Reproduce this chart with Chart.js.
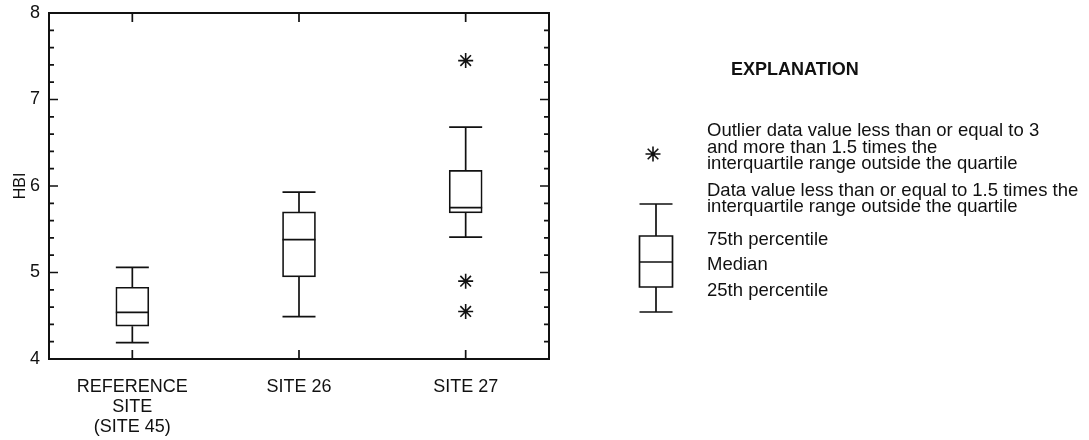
<!DOCTYPE html>
<html>
<head>
<meta charset="utf-8">
<script src="https://cdn.jsdelivr.net/npm/chart.js@4.4.0/dist/chart.umd.min.js"></script>
<style>
  html, body { margin: 0; padding: 0; background: #fff; }
  #wrap { width: 1089px; height: 440px; }
</style>
</head>
<body>
<div id="wrap"><canvas id="hbi" width="1089" height="440"></canvas></div>
<script>
// Sampling sites (multi-line label for the reference site)
const sites = [['REFERENCE', 'SITE', '(SITE 45)'], 'SITE 26', 'SITE 27'];

// Box-plot statistics of HBI per site
const whiskerLow  = [4.19, 4.49, 5.41];
const quartile25  = [4.38, 4.95, 5.69];
const medians     = [4.54, 5.38, 5.75];
const quartile75  = [4.83, 5.70, 6.18];
const whiskerHigh = [5.06, 5.93, 6.68];

// Outliers: site index and HBI value
const outlierSite  = [2, 2, 2];
const outlierValue = [7.45, 4.90, 4.55];

// Axis range and ticks
const yMin = 4, yMax = 8, yMajorStep = 1, yMinorStep = 0.2;

// Explanation text
const explanationTitle = 'EXPLANATION';
const outlierText = ['Outlier data value less than or equal to 3', 'and more than 1.5 times the', 'interquartile range outside the quartile'];
const whiskerText = ['Data value less than or equal to 1.5 times the', 'interquartile range outside the quartile'];
const boxText = ['75th percentile', 'Median', '25th percentile'];

const INK = '#111';
const FONT = "'Liberation Sans', Arial, Helvetica, sans-serif";
const STAR = { pointStyle: 'star', radius: 7.5, borderWidth: 1.6 };

// Whisker stems, caps and median lines for each box
const boxWhiskers = {
  id: 'boxWhiskers',
  afterDatasetsDraw(chart) {
    const { ctx, scales: { x, y } } = chart;
    const meta = chart.getDatasetMeta(0);
    ctx.save();
    ctx.strokeStyle = INK;
    ctx.lineWidth = 1.7;
    meta.data.forEach((bar, i) => {
      const cx = x.getPixelForValue(i);
      const half = bar.width / 2;
      const hi = y.getPixelForValue(whiskerHigh[i]);
      const lo = y.getPixelForValue(whiskerLow[i]);
      const q3 = y.getPixelForValue(quartile75[i]);
      const q1 = y.getPixelForValue(quartile25[i]);
      const md = y.getPixelForValue(medians[i]);
      ctx.beginPath();
      ctx.moveTo(cx, q3); ctx.lineTo(cx, hi);
      ctx.moveTo(cx - half, hi); ctx.lineTo(cx + half, hi);
      ctx.moveTo(cx, q1); ctx.lineTo(cx, lo);
      ctx.moveTo(cx - half, lo); ctx.lineTo(cx + half, lo);
      ctx.moveTo(cx - half, md); ctx.lineTo(cx + half, md);
      ctx.stroke();
    });
    ctx.restore();
  }
};

// Closed frame with inward tick marks on all four sides
const frameTicks = {
  id: 'frameTicks',
  afterDraw(chart) {
    const { ctx, chartArea: a, scales: { x, y } } = chart;
    ctx.save();
    ctx.strokeStyle = INK;
    ctx.lineWidth = 2;
    ctx.strokeRect(a.left, a.top, a.width, a.height);
    ctx.lineWidth = 1.7;
    ctx.beginPath();
    const n = Math.round((yMax - yMin) / yMinorStep);
    const perMajor = Math.round(yMajorStep / yMinorStep);
    for (let k = 1; k < n; k++) {
      const py = y.getPixelForValue(yMin + k * yMinorStep);
      const len = k % perMajor === 0 ? 9 : 5;
      ctx.moveTo(a.left, py); ctx.lineTo(a.left + len, py);
      ctx.moveTo(a.right, py); ctx.lineTo(a.right - len, py);
    }
    sites.forEach((s, i) => {
      const px = x.getPixelForValue(i);
      ctx.moveTo(px, a.top); ctx.lineTo(px, a.top + 9);
      ctx.moveTo(px, a.bottom); ctx.lineTo(px, a.bottom - 9);
    });
    ctx.stroke();
    ctx.restore();
  }
};

// Explanation panel to the right of the plot
const explanation = {
  id: 'explanation',
  afterDraw(chart) {
    const { ctx, chartArea: a } = chart;
    const sx = a.right + 107;   // symbol centre
    const tx = a.right + 158;   // text start
    ctx.save();
    ctx.fillStyle = INK;
    ctx.strokeStyle = INK;
    ctx.textBaseline = 'middle';
    ctx.textAlign = 'left';

    ctx.font = `bold 18px ${FONT}`;
    ctx.fillText(explanationTitle, a.right + 182, 70);

    ctx.font = `18.5px ${FONT}`;
    [131, 148, 164].forEach((ty, i) => ctx.fillText(outlierText[i], tx, ty));
    [191, 207].forEach((ty, i) => ctx.fillText(whiskerText[i], tx, ty));
    [240, 265, 291].forEach((ty, i) => ctx.fillText(boxText[i], tx, ty));

    // outlier symbol
    ctx.lineWidth = STAR.borderWidth;
    Chart.helpers.drawPoint(ctx, STAR, sx - 3, 154);

    // box symbol
    const half = 16.5;
    ctx.lineWidth = 1.7;
    ctx.beginPath();
    ctx.moveTo(sx, 236); ctx.lineTo(sx, 204);
    ctx.moveTo(sx - half, 204); ctx.lineTo(sx + half, 204);
    ctx.moveTo(sx, 287); ctx.lineTo(sx, 312);
    ctx.moveTo(sx - half, 312); ctx.lineTo(sx + half, 312);
    ctx.rect(sx - half, 236, half * 2, 51);
    ctx.moveTo(sx - half, 262); ctx.lineTo(sx + half, 262);
    ctx.stroke();
    ctx.restore();
  }
};

new Chart(document.getElementById('hbi'), {
  data: {
    labels: sites,
    datasets: [
      {
        type: 'bar',
        data: quartile25.map((q, i) => [q, quartile75[i]]),
        backgroundColor: '#fff',
        borderColor: INK,
        borderWidth: 1.7,
        borderSkipped: false,
        barThickness: 33
      },
      {
        type: 'scatter',
        data: outlierSite.map((s, i) => ({ x: sites[s], y: outlierValue[i] })),
        pointStyle: STAR.pointStyle,
        radius: STAR.radius,
        borderWidth: STAR.borderWidth,
        borderColor: INK,
        backgroundColor: INK
      }
    ]
  },
  options: {
    responsive: false,
    animation: false,
    devicePixelRatio: 1,
    layout: { autoPadding: false, padding: { left: 0, top: 13, right: 540, bottom: 0 } },
    plugins: { legend: { display: false }, tooltip: { enabled: false } },
    scales: {
      x: {
        type: 'category',
        offset: true,
        grid: { display: false, drawTicks: false },
        border: { display: false },
        ticks: {
          color: INK,
          font: { family: FONT, size: 18, lineHeight: 1.12 },
          padding: 18,
          maxRotation: 0,
          autoSkip: false
        },
        afterFit(scale) { scale.height = 81; }
      },
      y: {
        type: 'linear',
        min: yMin,
        max: yMax,
        grid: { display: false, drawTicks: false },
        border: { display: false },
        ticks: {
          stepSize: yMajorStep,
          color: INK,
          font: { family: FONT, size: 18, lineHeight: 0.2 },
          padding: 9
        },
        title: {
          display: true,
          text: 'HBI',
          color: INK,
          font: { family: FONT, size: 16 },
          padding: { top: 11, bottom: 0 }
        },
        afterFit(scale) { scale.width = 49; }
      }
    }
  },
  plugins: [boxWhiskers, frameTicks, explanation]
});
</script>
</body>
</html>
